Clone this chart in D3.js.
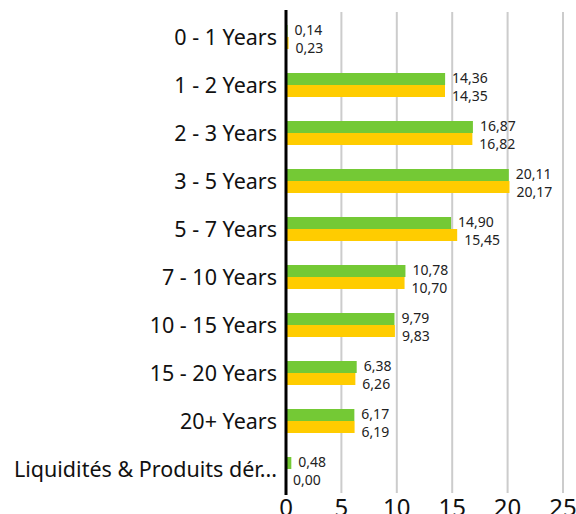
<!DOCTYPE html>
<html>
<head>
<meta charset="utf-8">
<script src="https://cdn.jsdelivr.net/npm/d3@7"></script>
<style>
  body { margin: 0; background: #fff; }
  text { font-family: "Noto Sans", sans-serif; }
</style>
</head>
<body>
<svg id="chart" width="576" height="514"></svg>
<script>
const categories = ["0 - 1 Years", "1 - 2 Years", "2 - 3 Years", "3 - 5 Years", "5 - 7 Years",
  "7 - 10 Years", "10 - 15 Years", "15 - 20 Years", "20+ Years", "Liquidités & Produits dér..."];
const fundValues = [0.14, 14.36, 16.87, 20.11, 14.90, 10.78, 9.79, 6.38, 6.17, 0.48];
const benchValues = [0.23, 14.35, 16.82, 20.17, 15.45, 10.70, 9.83, 6.26, 6.19, 0.00];
const xTicks = [0, 5, 10, 15, 20, 25];

const svg = d3.select("#chart");
const plot = { left: 286, right: 563, top: 13, bottom: 493 };

const x = d3.scaleLinear().domain([0, 25]).range([plot.left, plot.right]);
const y = d3.scaleBand().domain(categories).range([plot.top, plot.bottom]).paddingInner(0.5).paddingOuter(0.25);
const series = [
  { values: fundValues, color: "#74c935", labelDy: -2 },
  { values: benchValues, color: "#ffcc00", labelDy: 16 }
];
const sub = d3.scaleBand().domain([0, 1]).range([0, y.bandwidth()]);
const mid = c => y(c) + y.bandwidth() / 2;

// grid
svg.append("g")
  .selectAll("line")
  .data(xTicks.slice(1))
  .enter().append("line")
  .attr("x1", d => x(d)).attr("x2", d => x(d))
  .attr("y1", 12).attr("y2", 493)
  .attr("stroke", "#cccccc")
  .attr("stroke-width", 2);

// bars + value labels
series.forEach((s, si) => {
  svg.append("g")
    .selectAll("rect")
    .data(s.values)
    .enter().append("rect")
    .attr("x", x(0))
    .attr("y", (d, i) => y(categories[i]) + sub(si))
    .attr("width", d => x(d) - x(0))
    .attr("height", sub.bandwidth())
    .attr("fill", s.color);

  svg.append("g")
    .selectAll("text")
    .data(s.values)
    .enter().append("text")
    .attr("x", d => x(d) + 7)
    .attr("y", (d, i) => mid(categories[i]) + s.labelDy)
    .attr("font-size", 14)
    .attr("fill", "#222")
    .text(d => d.toFixed(2).replace(".", ","));
});

// zero line
svg.append("line")
  .attr("x1", x(0)).attr("x2", x(0))
  .attr("y1", 10).attr("y2", 495)
  .attr("stroke", "#000")
  .attr("stroke-width", 3);

// category labels
svg.append("g")
  .selectAll("text")
  .data(categories)
  .enter().append("text")
  .attr("x", 277)
  .attr("y", d => mid(d))
  .attr("dy", "0.35em")
  .attr("text-anchor", "end")
  .attr("font-size", 21.5)
  .attr("fill", "#111")
  .text(d => d);

// x tick labels
svg.append("g")
  .selectAll("text")
  .data(xTicks)
  .enter().append("text")
  .attr("x", d => x(d))
  .attr("y", 516)
  .attr("text-anchor", "middle")
  .attr("font-size", 24)
  .attr("fill", "#111")
  .text(d => d);
</script>
</body>
</html>
